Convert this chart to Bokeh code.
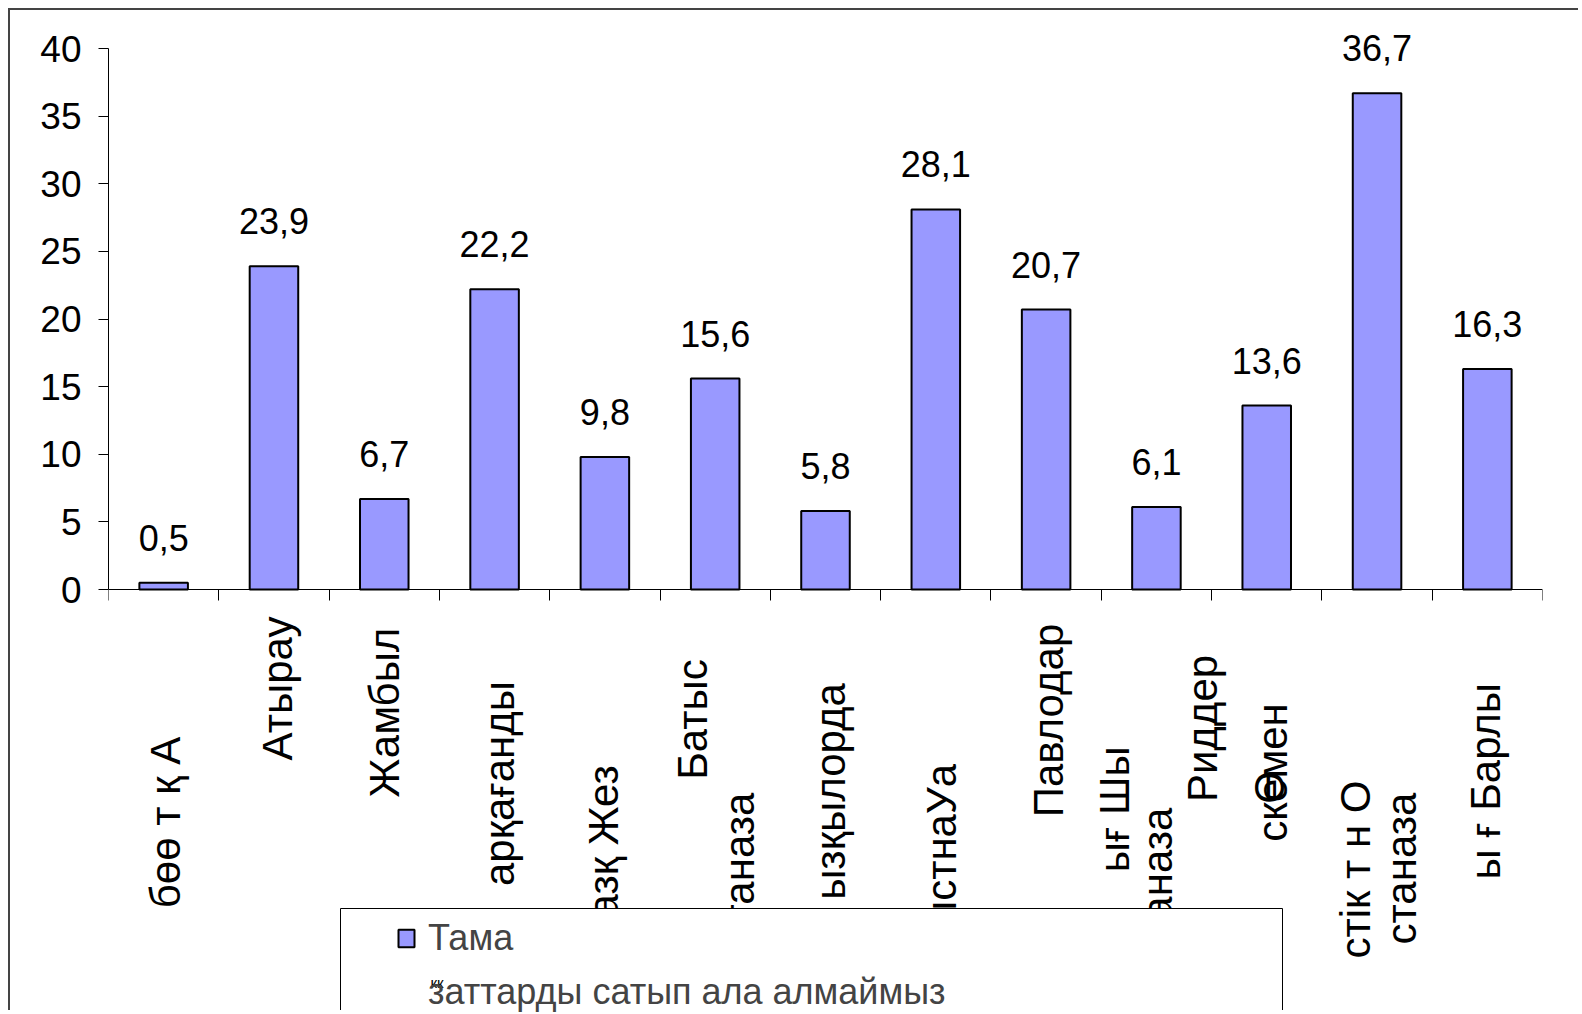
import numpy as np
from bokeh.plotting import figure
from bokeh.models import (ColumnDataSource, LabelSet, Label, Range1d, FixedTicker, LinearAxis,
                          Legend, LegendItem, CustomJSTickFormatter, BoxAnnotation)
from bokeh.core.properties import value
from bokeh.embed import file_html
from bokeh.resources import INLINE

# ---------------- data ----------------
values = [0.5, 23.9, 6.7, 22.2, 9.8, 15.6, 5.8, 28.1, 20.7, 6.1, 13.6, 36.7, 16.3]
y_ticks = [0, 5, 10, 15, 20, 25, 30, 35, 40]
series_name_lines = ["Тама", "заттарды сатып ала алмаймыз"]
legend_glitch = "кк"

# category label lines as they appear (category index, text)
label_cat = [0, 1, 2, 3, 4, 5, 5, 6, 7, 8, 9, 9, 9, 10, 10, 11, 11, 12]
label_text = ["бөө т қ А", "Атырау", "Жамбыл", "арқағанды", "азқ  Жез",
              "Батыс", "станаза", "ызқылорда", "ыстнаУа", "Павлодар",
              "ығ  Шы", "станаза", "Риддер", "скемен", "Ө",
              "стік т н О", "станаза", "ы ғ  Барлы"]

# ---------------- layout (page px) ----------------
line_dx = [2, 4, 0, 5, -1, -23, 24, 5, 6, 2, -42, 1, 46, 6, 3, -22, 24, -2]
line_center = [822, 688, 712, 783, 835, 719, 868, 791, 847, 720, 803, 883, 728, 772, 787, 869, 868, 775]

CANVAS_X0, CANVAS_Y0 = 10, 10          # canvas origin on the page (margin + border)
W, H = 1570, 1002
FRAME_LEFT, FRAME_RIGHT = 108, 1542
Y0_PAGE, Y40_PAGE = 589, 48
PX_PER_UNIT = (Y0_PAGE - Y40_PAGE) / 40.0
PX_PER_CAT = (FRAME_RIGHT - FRAME_LEFT) / len(values)
FRAME_TOP = CANVAS_Y0
FRAME_BOTTOM = CANVAS_Y0 + H
y_start = -(FRAME_BOTTOM - Y0_PAGE) / PX_PER_UNIT
y_end = (Y0_PAGE - FRAME_TOP) / PX_PER_UNIT
line_dy = [Y0_PAGE - c for c in line_center]


def px_x(px):
    return (px - FRAME_LEFT) / PX_PER_CAT


def px_y(py):
    return (Y0_PAGE - py) / PX_PER_UNIT


FONT = "Liberation Sans"

p = figure(width=W, height=H, x_range=Range1d(0, len(values)), y_range=Range1d(y_start, y_end),
           output_backend="svg", toolbar_location=None,
           x_axis_type=None, y_axis_type=None, min_border=0,
           min_border_left=FRAME_LEFT - CANVAS_X0,
           min_border_right=CANVAS_X0 + W - FRAME_RIGHT,
           min_border_top=0, min_border_bottom=0)
p.outline_line_color = None
p.grid.visible = False
p.background_fill_color = "white"
p.border_fill_color = "white"
p.styles = {"margin-left": "8px", "margin-top": "8px",
            "border-left": "2px solid #444", "border-top": "2px solid #444"}

yaxis = LinearAxis(ticker=FixedTicker(ticks=y_ticks), bounds=(0, 40),
                   major_tick_out=10, major_tick_in=0,
                   minor_tick_out=0, minor_tick_in=0, major_label_standoff=17,
                   major_label_text_font=FONT, major_label_text_font_size="37px",
                   major_label_text_color="black",
                   axis_line_color="black", major_tick_line_color="black")
p.add_layout(yaxis, "left")

xaxis = LinearAxis(ticker=FixedTicker(ticks=list(range(len(values) + 1))),
                   fixed_location=0,
                   major_tick_out=11, major_tick_in=0, minor_tick_out=0, minor_tick_in=0,
                   formatter=CustomJSTickFormatter(code="return ''"),
                   axis_line_color="black", major_tick_line_color="black")
p.add_layout(xaxis, "below")

src = ColumnDataSource(dict(
    x=np.arange(len(values)) + 0.5,
    top=values,
    label=[f"{v:.1f}".replace(".", ",") for v in values],
))
bars = p.vbar(x="x", top="top", width=0.44, source=src,
              fill_color="#9999FF", line_color="black", line_width=2)
# invisible renderer so the second legend line has no swatch
blank = p.vbar(x=[], top=[], width=0.44, fill_alpha=0, line_alpha=0)

vals_labels = LabelSet(x="x", y="top", text="label", source=src, y_offset=32,
                       text_align="center", text_baseline="alphabetic",
                       text_font=value(FONT), text_font_size="36px", text_color="black")
p.add_layout(vals_labels)

lsrc = ColumnDataSource(dict(
    x=[c + 0.5 for c in label_cat],
    y=[0] * len(label_cat),
    dx=line_dx, dy=line_dy, text=label_text,
))
cat_labels = LabelSet(x="x", y="y", text="text", source=lsrc, x_offset="dx", y_offset="dy",
                      angle=np.pi / 2, text_align="center", text_baseline="middle",
                      text_font=value(FONT), text_font_size="42px", text_color="black")
p.add_layout(cat_labels)

# legend frame
BOX_L, BOX_R, BOX_T = 340, 1282, 908
box = BoxAnnotation(left=px_x(BOX_L), right=px_x(BOX_R), top=px_y(BOX_T), bottom=y_start - 1,
                    fill_color="white", fill_alpha=1.0, line_color="black", line_width=1,
                    line_alpha=1.0)
p.add_layout(box)

SW_L, LEG_TOP, ITEM_H, ITEM_GAP = 396, 921, 40, 12
leg_h = 2 * ITEM_H + ITEM_GAP
legend = Legend(items=[LegendItem(label=series_name_lines[0], renderers=[bars]),
                       LegendItem(label=series_name_lines[1], renderers=[blank])],
                location=(SW_L - FRAME_LEFT, FRAME_BOTTOM - LEG_TOP - leg_h),
                orientation="vertical",
                label_text_font=FONT, label_text_font_size="36px",
                glyph_width=20, glyph_height=22, label_standoff=12, padding=0,
                margin=0, spacing=ITEM_GAP,
                border_line_color=None, background_fill_alpha=0.0)
p.add_layout(legend)

gx, gy = 430, 982
glitch = Label(x=px_x(gx), y=px_y(gy), text=legend_glitch,
               text_font=FONT, text_font_size="15px", text_color="black",
               text_align="left", text_baseline="alphabetic")
p.add_layout(glitch)

open("out.html", "w").write(file_html(p, INLINE))
